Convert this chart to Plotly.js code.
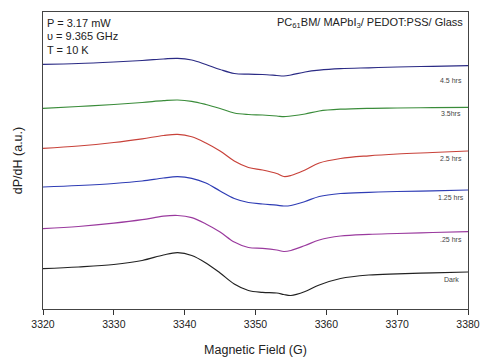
<!DOCTYPE html>
<html>
<head>
<meta charset="utf-8">
<script src="https://cdn.plot.ly/plotly-3.0.1.min.js"></script>
<style>html,body{margin:0;padding:0;background:#fff;}#chart{width:481px;height:358px;}</style>
</head>
<body>
<div id="chart"></div>
<script>
// Magnetic field (G)
const field = [3320,3325,3330,3334,3337,3339,3341,3343,3345,3347,3349,3351,3353,3354,3355,3357,3359,3362,3366,3370,3375,3380];
// dP/dH (arbitrary units, stacked traces)
const dark   = [40.3,42,44.5,48.5,54,56.3,53.5,46,36,25,18.5,16.7,16,14.5,13.5,17.5,24,30.5,34,35.2,36.2,37];
const hrs025 = [80.3,82.5,85.8,89.3,92.8,93.5,91.3,85,77,67,61.5,60.7,59,57.5,58.5,63.5,69,73,74.7,75.5,76.5,77.3];
const hrs125 = [122,123.5,125.5,128,131,132.3,130.7,126,118,110.5,106.5,105,103.8,103,103.5,107.5,112.5,115.5,116.7,117.5,118.2,119];
const hrs25  = [160.7,163,166.5,170.2,173.5,174.7,172.3,166,158,148,141.5,139,135.5,132.5,133.5,139,146,150.5,153.2,155,156.5,158];
const hrs35  = [200.7,202.5,204.5,206.5,208.3,209,207.7,204.5,200.5,196,194.5,194,193,192.3,193,195,198,199.8,200.7,201,201.4,201.7];
const hrs45  = [244.7,245.5,247,248.5,250,250.7,249,244.5,239.5,235.5,234.8,234.5,233.5,233,234,237,238.8,240.3,241.2,242,242.7,243.3];

const seriesNames  = ["Dark", ".25 hrs", "1.25 hrs", "2.5 hrs", "3.5hrs", "4.5 hrs"];
const seriesValues = [dark, hrs025, hrs125, hrs25, hrs35, hrs45];
const seriesColors = ["#222222", "#9a3a9e", "#2f3db5", "#c8423a", "#3a8c3a", "#2b2b85"];
const labelField = 3377.6;
const labelOffsets = [-7.3, -7.3, -7.3, -7.3, -6.2, -14.3];

const traces = seriesValues.map((v, i) => ({
  x: field, y: v, type: "scatter", mode: "lines", name: seriesNames[i],
  line: {color: seriesColors[i], width: 1.2, shape: "spline", smoothing: 1.0},
  hoverinfo: "skip"
}));

const font = "Liberation Sans, Arial, sans-serif";
const annotations = seriesNames.map((n, i) => ({
  x: labelField, y: seriesValues[i][seriesValues[i].length - 1] + labelOffsets[i],
  xref: "x", yref: "y", text: n, showarrow: false,
  font: {family: font, size: 7, color: "#444"}, xanchor: "center", yanchor: "middle"
}));
const info = ["P = 3.17 mW", "υ = 9.365 GHz", "T = 10 K"];
info.forEach((t, i) => annotations.push({
  xref: "paper", yref: "paper", x: 0.004, y: 1 - (10.5 + 13.6 * i) / 297,
  text: t, showarrow: false, xanchor: "left", yanchor: "middle",
  font: {family: font, size: 11, color: "#222"}
}));
annotations.push({
  xref: "paper", yref: "paper", x: 0.994, y: 1 - 10.5 / 297,
  text: "PC<sub>61</sub>BM/ MAPbI<sub>3</sub>/ PEDOT:PSS/ Glass", showarrow: false,
  xanchor: "right", yanchor: "middle", font: {family: font, size: 11, color: "#222"}
});

const layout = {
  width: 481, height: 358,
  margin: {l: 43, r: 13, t: 12, b: 49},
  paper_bgcolor: "#fff", plot_bgcolor: "#fff",
  showlegend: false,
  font: {family: font, color: "#222"},
  xaxis: {
    range: [3320, 3380], tickvals: [3320,3330,3340,3350,3360,3370,3380],
    ticks: "outside", ticklen: 5, tickwidth: 1, tickcolor: "#333",
    showline: true, linecolor: "#444", linewidth: 1, mirror: true,
    showgrid: false, zeroline: false,
    tickfont: {family: font, size: 10.5, color: "#222"},
    title: {text: "Magnetic Field (G)", font: {family: font, size: 12.5, color: "#222"}, standoff: 16}
  },
  yaxis: {
    range: [0, 297], showticklabels: false, ticks: "",
    showline: true, linecolor: "#444", linewidth: 1, mirror: true,
    showgrid: false, zeroline: false,
    title: {text: "dP/dH (a.u.)", font: {family: font, size: 12.5, color: "#222"}, standoff: 16}
  },
  annotations: annotations
};

Plotly.newPlot("chart", traces, layout, {staticPlot: true, displayModeBar: false});
</script>
</body>
</html>
